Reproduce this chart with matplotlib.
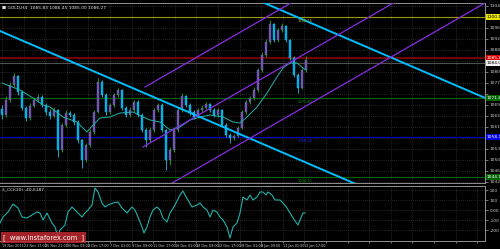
import matplotlib
matplotlib.use("Agg")
import matplotlib.pyplot as plt
from matplotlib.patches import Rectangle

# GOLD H4 candles (bar index = position)
closes = [1065.85, 1071.1, 1076.35, 1079.5, 1073.9, 1068.3, 1064.8, 1069.0, 1071.1, 1072.15,
          1069.35, 1066.9, 1065.5, 1067.6, 1053.6, 1062.35, 1066.55, 1065.85, 1063.4, 1057.1,
          1050.1, 1055.35, 1059.9, 1066.9, 1077.4, 1072.85, 1066.9, 1069.35, 1072.85, 1074.6,
          1068.3, 1065.85, 1067.6, 1070.4, 1065.85, 1060.6, 1057.1, 1060.6, 1067.6, 1069.35,
          1060.6, 1050.1, 1053.6, 1060.6, 1067.6, 1072.5, 1069.35, 1066.9, 1065.15, 1067.6,
          1068.3, 1069.7, 1067.6, 1065.85, 1067.6, 1062.35, 1058.85, 1057.8, 1058.5, 1061.3,
          1066.9, 1070.4, 1071.8, 1074.6, 1081.6, 1086.85, 1091.4, 1097.7, 1092.1, 1095.6,
          1097.0, 1092.1, 1085.8, 1079.85, 1075.3, 1081.6, 1085.1]
highs = [1069.5, 1072.5, 1077.5, 1080.5, 1080.0, 1074.5, 1069.0, 1070.0, 1072.0, 1073.2,
         1072.8, 1070.0, 1067.8, 1068.5, 1068.0, 1063.0, 1067.5, 1067.2, 1066.5, 1064.0,
         1057.5, 1056.0, 1060.8, 1067.5, 1078.8, 1078.0, 1073.5, 1070.2, 1073.6, 1075.3,
         1075.0, 1069.0, 1068.5, 1071.1, 1071.0, 1066.5, 1061.2, 1061.5, 1068.3, 1070.05,
         1070.0, 1061.0, 1054.5, 1061.5, 1068.5, 1073.55, 1073.0, 1070.0, 1067.5, 1068.4,
         1069.2, 1070.5, 1070.2, 1068.2, 1068.3, 1068.0, 1063.0, 1059.5, 1059.3, 1062.0,
         1067.6, 1071.1, 1072.6, 1075.5, 1082.4, 1087.8, 1092.5, 1099.1, 1098.2, 1096.4,
         1098.05, 1097.5, 1092.6, 1086.4, 1080.5, 1082.3, 1086.45]
lows = [1064.5, 1065.0, 1070.5, 1075.5, 1073.0, 1067.5, 1063.8, 1064.0, 1068.5, 1070.5,
        1068.5, 1066.0, 1064.5, 1065.0, 1051.2, 1053.0, 1061.8, 1065.0, 1062.5, 1056.0,
        1047.3, 1049.5, 1054.8, 1059.2, 1066.5, 1072.0, 1066.0, 1066.2, 1068.8, 1072.2,
        1067.5, 1065.0, 1065.2, 1067.0, 1065.0, 1059.8, 1054.65, 1056.5, 1060.0, 1067.0,
        1059.8, 1046.6, 1048.5, 1053.0, 1060.0, 1067.0, 1068.5, 1066.0, 1064.5, 1064.8,
        1067.0, 1067.8, 1067.0, 1065.0, 1065.2, 1061.5, 1058.0, 1056.05, 1057.0, 1058.0,
        1060.8, 1066.3, 1069.8, 1071.2, 1074.0, 1081.0, 1086.2, 1090.8, 1091.4, 1091.5,
        1095.0, 1091.4, 1085.0, 1079.0, 1073.55, 1074.8, 1081.0]
opens = [1068.0] + closes[:-1]

# moving average
ma_x = [0, 4.5, 7.75, 10.25, 12, 15.25, 18.75, 21.25, 22.75, 24.5, 27, 29.5, 32.75, 35.25,
        37, 39.5, 42, 44.5, 47, 49.5, 52, 55.25, 57.75, 59.5, 61.25, 63.75, 66.25, 68.75,
        70.25, 72, 73.75, 75.25, 76]
ma_y = [1077.05, 1074.6, 1071.8, 1069.35, 1068.65, 1065.15, 1063.4, 1059.9, 1062.35, 1064.8,
        1065.15, 1066.55, 1066.9, 1065.15, 1064.1, 1063.4, 1060.6, 1061.65, 1064.1, 1065.15,
        1065.85, 1065.15, 1063.4, 1063.05, 1065.15, 1068.65, 1073.55, 1079.15, 1082.3, 1084.05,
        1084.05, 1082.3, 1081.6]

# CCI(20)
cci_x = [-0.5, 0.25, 1.5, 2.75, 4, 5, 6.25, 7.5, 8.75, 9.5, 10.25, 11.25, 12.5, 13.25, 14,
         14.5, 15.75, 16.5, 17.5, 18.25, 19, 20, 20.75, 21.5, 22.5, 23.25, 24, 25, 25.75, 26.5,
         27.75, 29, 30, 31.25, 32.5, 33.25, 34, 35, 35.5, 36.25, 37, 37.75, 38.75, 39.5, 40.25,
         41.25, 42, 43.25, 44.5, 45.25, 45.75, 46.5, 47.5, 48.75, 49.5, 50.25, 51.25, 52, 52.75,
         53.75, 54.5, 55.25, 56.25, 57, 57.75, 58.75, 59.5, 60.25, 61.25, 62, 62.75, 63.75,
         64.5, 65.25, 66, 66.5, 67.5, 68.25, 69.5, 70.25, 71.25, 72, 72.75, 74, 74.5, 75.25, 75.75]
cci_y = [-130, -70, -20, 60, 20, -70, -80, -50, -20, -30, -100, -30, -130, -170, -270,
         -200, -150, -20, 30, 0, -30, -70, -30, 0, 50, 220, 180, 70, 30, 50,
         70, 80, 20, -30, 30, 0, -70, -170, -230, -170, -70, 0, 30, 0, -80,
         -120, -30, 50, 150, 190, 150, 100, 30, 50, 70, 30, 0, -70, 0,
         -20, -70, -100, -170, -280, -170, -130, -30, 130, 100, 150, 100, 130,
         180, 180, 150, 180, 150, 100, 100, 70, 20, -30, -80, -150, -100, -30, -30]

# drawn objects
cyan_lines = [([-0.5, 99.5], [1095.25, 1035.05]), ([62, 120.75], [1107.22, 1071.83])]
purple_lines = [([35.75, 77], [1075.65, 1108.9]), ([35.25, 120.75], [1054.65, 1123.5]),
                ([37, 120.75], [1037.6, 1105.05])]
levels = [1100.15, 1085.80, 1084.05, 1071.80, 1058.15, 1044.15]
level_colors = ['#9a9a00', '#8b0000', '#505050', '#006400', '#0000c8', '#006400']
box_colors = ['#e6e600', '#e00000', '#f0f0f0', '#006400', '#0000e0', '#006400']
box_text = ['black', 'white', 'black', 'white', 'white', 'white']

price_ticks = [1104.00, 1100.15, 1096.30, 1092.45, 1088.60, 1084.75, 1080.90, 1077.05, 1073.20,
               1069.35, 1065.50, 1061.65, 1057.80, 1053.95, 1050.10, 1046.25, 1042.40]
cci_ticks = [200, 100, 0, -100, -200]
cci_labels = ['200', '100', '0.00', '-100', '-200']
date_pos = [0, 5.4, 10.8, 16.2, 21.6, 27.0, 32.4, 37.8, 43.2, 48.6, 54.0, 59.4, 64.8, 70.2, 75.6,
            81.0, 86.4, 91.8, 97.2, 102.6, 108.0, 113.4, 118.8]
date_labels = ['19 Nov 2015', '23 Nov 17:00', '25 Nov 21:00', '30 Nov 09:00', '2 Dec 17:00',
               '7 Dec 01:00', '9 Dec 09:00', '11 Dec 17:00', '16 Dec 01:00', '18 Dec 09:00',
               '22 Dec 17:00', '28 Dec 01:00', '6 Jan 09:00', '11 Jan 01:00', '13 Jan 17:00']

fig = plt.figure(figsize=(5, 2.49), dpi=100, facecolor='black')
ax = fig.add_axes([0, 1 - 183 / 249, 0.97, 180 / 249], facecolor='black')
ax2 = fig.add_axes([0, 1 - 241 / 249, 0.97, 55 / 249], facecolor='black')

gcol = '#4a4a4a'
for a in (ax, ax2):
    a.set_xlim(-0.5, 120.75)
    a.set_xticks(date_pos)
    a.grid(True, color=gcol, linestyle=(0, (1, 2)), linewidth=0.5)
    a.set_axisbelow(True)
    a.yaxis.tick_right()
    a.tick_params(axis='y', labelsize=3.2, colors='#c8c8c8', length=2, width=0.4, pad=1.2)
    for s in a.spines.values():
        s.set_color('#909090')
        s.set_linewidth(0.7)
    a.spines['left'].set_visible(False)

ax.set_ylim(1042.05, 1105.05)
ax.set_yticks(price_ticks)
# labels hidden where a coloured price box sits on the scale
ax.set_yticklabels(['' if min(abs(p - lv) for lv in levels) < 1.6 else '%.2f' % p
                    for p in price_ticks])
ax.tick_params(axis='x', length=0, labelbottom=False)

# horizontal levels
for lv, lc in zip(levels, level_colors):
    ax.axhline(lv, color=lc, linewidth=1.2 if lc == '#8b0000' else 0.8, zorder=1)

# candles
for i in range(len(closes)):
    o, c, h, l = opens[i], closes[i], highs[i], lows[i]
    up = c >= o
    body = '#9b30ff' if up else '#00aaee'
    wick = '#22aa22' if up else '#20c0e0'
    ax.vlines(i, l, h, color=wick, linewidth=0.6, zorder=3)
    ax.add_patch(Rectangle((i - 0.33, min(o, c)), 0.66, max(abs(c - o), 0.15),
                           facecolor=body, edgecolor=wick, linewidth=0.3, zorder=4))

ax.plot(ma_x, ma_y, color='#20b2aa', linewidth=0.7, zorder=5)
for xs, ys in cyan_lines:
    ax.plot(xs, ys, color='#00bfff', linewidth=1.4, zorder=6)
for xs, ys in purple_lines:
    ax.plot(xs, ys, color='#8a2be2', linewidth=0.9, zorder=6)

# small level captions next to the last bars
for lv, lc in zip([levels[0], levels[3], levels[4], levels[5]],
                  ['#b0b000', '#00a000', '#2020ff', '#00a000']):
    ax.text(74, lv - 0.6, '%.2f' % lv, color=lc, fontsize=2.6, va='top', ha='left', zorder=7)

# coloured price boxes on the right scale
for lv, bc, tc in zip(levels, box_colors, box_text):
    ax.text(1.004, lv, '%.2f' % lv, transform=ax.get_yaxis_transform(), fontsize=3.2,
            color=tc, va='center', ha='left', clip_on=False, zorder=10,
            bbox=dict(boxstyle='square,pad=0.15', facecolor=bc, edgecolor='none'))

ax.text(0.004, 0.985, '\u25a0 GOLD,H4  1085.83 1086.45 1085.00 1086.27', transform=ax.transAxes,
        fontsize=3.2, color='#e0e0e0', va='top', ha='left')

# CCI panel
ax2.plot(cci_x, cci_y, color='#20b2aa', linewidth=0.8)
ax2.set_ylim(-310, 240)
ax2.set_yticks(cci_ticks)
ax2.set_yticklabels(cci_labels)
ax2.set_xticklabels(date_labels + [''] * (len(date_pos) - len(date_labels)))
ax2.tick_params(axis='x', labelsize=2.45, colors='#c8c8c8', length=1.5, width=0.4, pad=1)
for lbl in ax2.get_xticklabels():
    lbl.set_ha('left')
ax2.text(0.004, 0.97, '3_CCI(20) -40.6187', transform=ax2.transAxes, fontsize=3.2,
         color='#e0e0e0', va='top', ha='left')

fig.text(0.087, 1 - 237.5 / 249, '[  www.instaforex.com  ]', fontsize=4.8, color='white',
         ha='center', va='center',
         bbox=dict(boxstyle='square,pad=0.35', facecolor='#c0282d', edgecolor='none', alpha=0.85))

fig.savefig('out.png', dpi=100, facecolor='black')
